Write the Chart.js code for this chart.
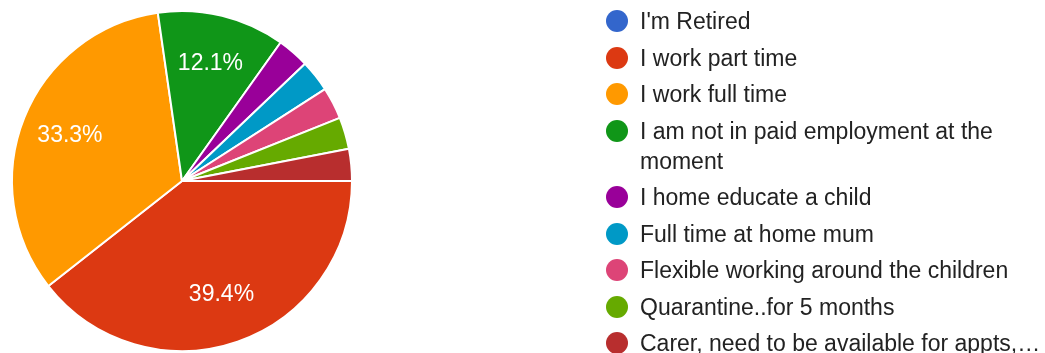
<!DOCTYPE html>
<html>
<head>
<meta charset="utf-8">
<script src="https://cdn.jsdelivr.net/npm/chart.js@4.4.1/dist/chart.umd.min.js"></script>
<style>
  html, body { margin: 0; padding: 0; background: #fff; }
  #wrap { position: relative; width: 1045px; height: 353px; overflow: hidden; }
  #pie { position: absolute; left: 0; top: 0; }
  #legend {
    position: absolute; left: 606px; top: 6px; margin: 0; padding: 0; list-style: none;
    font-family: "Liberation Sans", Arial, sans-serif; font-size: 23px; color: #222;
  }
  #legend li { position: relative; padding-left: 34px; line-height: 30px; margin-bottom: 6.5px; max-width: 420px; }
  #legend li.nowrap { white-space: nowrap; }
  #legend .dot { position: absolute; left: 0; top: 4px; width: 22px; height: 22px; border-radius: 50%; }
</style>
</head>
<body>
<div id="wrap">
  <canvas id="pie" width="1045" height="353"></canvas>
  <ul id="legend"></ul>
</div>
<script>
const labels = [
  "I'm Retired",
  "I work part time",
  "I work full time",
  "I am not in paid employment at the moment",
  "I home educate a child",
  "Full time at home mum",
  "Flexible working around the children",
  "Quarantine..for 5 months",
  "Carer, need to be available for appts,\u2026"
];
// responses (33 total)
const counts = [0, 13, 11, 4, 1, 1, 1, 1, 1];
const colors = ['#3366cc', '#dc3912', '#ff9900', '#109618', '#990099', '#0099c6', '#dd4477', '#66aa00', '#b82e2e'];

const total = counts.reduce((a, b) => a + b, 0);

// percent labels inside the larger slices
const sliceLabels = {
  id: 'sliceLabels',
  afterDatasetsDraw(chart) {
    const ctx = chart.ctx;
    const meta = chart.getDatasetMeta(0);
    ctx.save();
    ctx.fillStyle = '#fff';
    ctx.font = '23px "Liberation Sans", Arial, sans-serif';
    ctx.textAlign = 'center';
    ctx.textBaseline = 'middle';
    meta.data.forEach((arc, i) => {
      const frac = counts[i] / total;
      if (frac < 0.05) return;
      const mid = (arc.startAngle + arc.endAngle) / 2;
      const r = arc.outerRadius * 0.71;
      ctx.fillText((frac * 100).toFixed(1) + '%', arc.x + Math.cos(mid) * r, arc.y + Math.sin(mid) * r);
    });
    ctx.restore();
  }
};

new Chart(document.getElementById('pie'), {
  type: 'pie',
  data: {
    labels: labels,
    datasets: [{
      data: counts,
      backgroundColor: colors,
      borderColor: '#fff',
      borderWidth: 2
    }]
  },
  options: {
    responsive: false,
    animation: false,
    rotation: 90,
    layout: { padding: { left: 11, right: 692, top: 10, bottom: 1 } },
    plugins: {
      legend: { display: false },
      tooltip: { enabled: false }
    }
  },
  plugins: [sliceLabels]
});

// legend list built from the same arrays
const ul = document.getElementById('legend');
labels.forEach((l, i) => {
  const li = document.createElement('li');
  if (i === labels.length - 1) li.className = 'nowrap';
  const dot = document.createElement('span');
  dot.className = 'dot';
  dot.style.background = colors[i];
  li.appendChild(dot);
  li.appendChild(document.createTextNode(l));
  ul.appendChild(li);
});
</script>
</body>
</html>
